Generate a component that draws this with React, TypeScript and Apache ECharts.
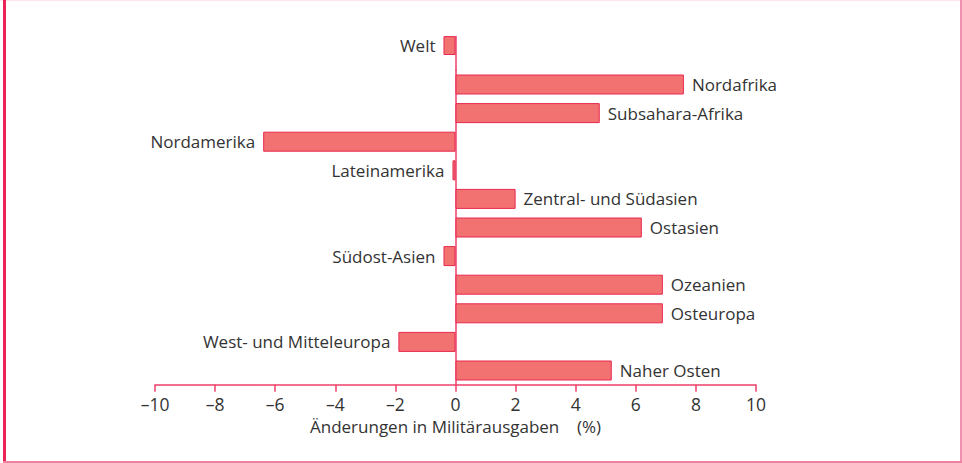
import React, { useEffect, useRef } from "react";
import * as echarts from "echarts";

const worldCategory = ["Welt", ""];
const worldValues = [-0.4];
const regionCategories = [
  "Nordafrika",
  "Subsahara-Afrika",
  "Nordamerika",
  "Lateinamerika",
  "Zentral- und Südasien",
  "Ostasien",
  "Südost-Asien",
  "Ozeanien",
  "Osteuropa",
  "West- und Mitteleuropa",
  "Naher Osten",
];
const regionValues = [7.6, 4.8, -6.4, -0.1, 2.0, 6.2, -0.4, 6.9, 6.9, -1.9, 5.2];
const xMin = -10;
const xMax = 10;
const xInterval = 2;
const axisTitle = "Änderungen in Militärausgaben\u00a0\u00a0\u00a0\u00a0(%)";

const FONT = "'Open Sans', 'Liberation Sans', sans-serif";
const TEXT = "#333333";
const BAR_FILL = "#f27272";
const BAR_BORDER = "#e8284f";
const AXIS = "#ee3f6a";

function toItems(vals: number[]) {
  return vals.map((v) => ({
    value: v,
    label: { position: v < 0 ? "left" : "right" },
  }));
}

export default function App() {
  const ref = useRef<HTMLDivElement>(null);
  useEffect(() => {
    if (!ref.current) return;
    const chart = echarts.init(ref.current, undefined, { renderer: "svg" });
    const labelCfg = {
      show: true,
      formatter: "{b}",
      color: TEXT,
      fontSize: 17,
      fontFamily: FONT,
      distance: 8,
    };
    const barStyle = { color: BAR_FILL, borderColor: BAR_BORDER, borderWidth: 1 };
    chart.setOption({
      animation: false,
      backgroundColor: "#ffffff",
      grid: [
        { left: 155, right: 206, top: 36.6, bottom: 392.8, containLabel: false },
        { left: 155, right: 206, top: 70.2, bottom: 78.2, containLabel: false },
      ],
      xAxis: [
        {
          gridIndex: 0,
          type: "value",
          min: xMin,
          max: xMax,
          interval: xInterval,
          show: false,
          splitLine: { show: false },
        },
        {
          gridIndex: 1,
          type: "value",
          min: xMin,
          max: xMax,
          interval: xInterval,
          position: "bottom",
          axisLine: { show: true, onZero: false, lineStyle: { color: AXIS, width: 1.5 } },
          axisTick: { show: true, length: 7, lineStyle: { color: AXIS, width: 1.5 } },
          axisLabel: {
            color: TEXT,
            fontSize: 17.5,
            fontFamily: FONT,
            margin: 10,
            formatter: (v: number) => String(v).replace("-", "\u2013"),
          },
          splitLine: { show: false },
          name: axisTitle,
          nameLocation: "middle",
          nameGap: 33,
          nameTextStyle: { color: TEXT, fontSize: 17, fontFamily: FONT },
        },
      ],
      yAxis: [
        {
          gridIndex: 0,
          type: "category",
          inverse: true,
          data: worldCategory,
          axisLine: { show: true, onZero: true, lineStyle: { color: AXIS, width: 1.5 } },
          axisTick: { show: false },
          axisLabel: { show: false },
          splitLine: { show: false },
        },
        {
          gridIndex: 1,
          type: "category",
          inverse: true,
          data: regionCategories,
          axisLine: { show: true, onZero: true, lineStyle: { color: AXIS, width: 1.5 } },
          axisTick: { show: false },
          axisLabel: { show: false },
          splitLine: { show: false },
        },
      ],
      series: [
        {
          type: "bar",
          xAxisIndex: 0,
          yAxisIndex: 0,
          barWidth: 20,
          data: toItems(worldValues),
          itemStyle: barStyle,
          label: labelCfg,
        },
        {
          type: "bar",
          xAxisIndex: 1,
          yAxisIndex: 1,
          barWidth: 20,
          data: toItems(regionValues),
          itemStyle: barStyle,
          label: labelCfg,
        },
      ],
    });
    return () => chart.dispose();
  }, []);

  return (
    <div
      style={{
        position: "fixed",
        left: 0,
        top: 0,
        width: 962,
        height: 463,
        background: "#ffffff",
        overflow: "hidden",
      }}
    >
      <div ref={ref} style={{ position: "absolute", left: 0, top: 0, width: 962, height: 463 }} />
      <div style={{ position: "absolute", left: 0, top: 0, width: 962, height: 1, background: "#fde3ea" }} />
      <div style={{ position: "absolute", left: 3, top: 0, width: 3, height: 463, background: "#ec2357" }} />
      <div style={{ position: "absolute", left: 960, top: 0, width: 2, height: 463, background: "#ef90b0" }} />
      <div style={{ position: "absolute", left: 3, top: 461, width: 959, height: 2, background: "#f07fa0" }} />
    </div>
  );
}
